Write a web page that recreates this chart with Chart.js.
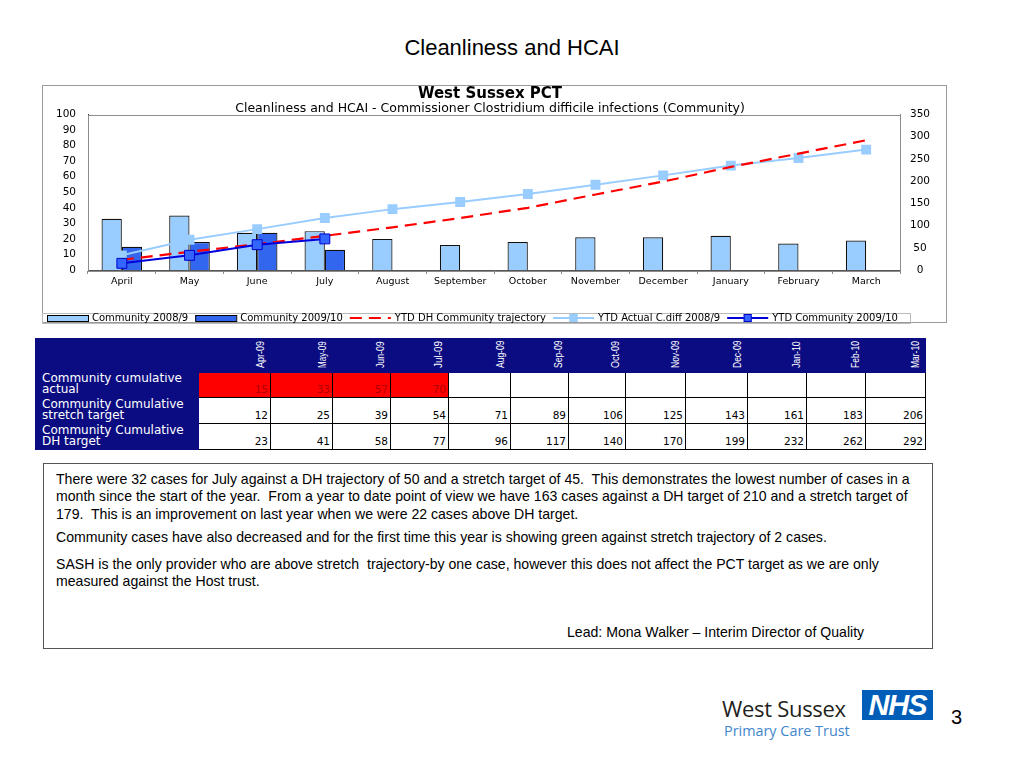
<!DOCTYPE html>
<html>
<head>
<meta charset="utf-8">
<script src="https://cdn.jsdelivr.net/npm/chart.js@4.4.1/dist/chart.umd.min.js"></script>
<style>
  body { margin: 0; width: 1024px; height: 768px; background: #fff; position: relative; overflow: hidden; font-family: "Liberation Sans", Arial, sans-serif; }
  .abs { position: absolute; }
  #slideTitle { left: 0; width: 1024px; top: 35px; text-align: center; font-size: 22px; color: #000; }
  #chartWrap { left: 42px; top: 85px; width: 905px; height: 242px; }
  #tbl { left: 35px; top: 338px; border-collapse: collapse; table-layout: fixed; font-family: "DejaVu Sans", sans-serif; }
  #tbl td { padding: 0; overflow: hidden; }
  #tbl tr.hdr td { background: #0c0c82; height: 33px; border: 1px solid #0c0c82; }
  .hwrap { position: relative; height: 33px; overflow: hidden; }
  .rot { position: absolute; left: calc(100% - 16px); top: 29px; line-height: 12px; white-space: nowrap; transform-origin: 0 0; transform: rotate(-90deg); color: #fff; font-family: "Liberation Sans", Arial, sans-serif; font-size: 11px; }
  #tbl td.lbl { background: #0c0c82; color: #fff; font-size: 12px; line-height: 11px; vertical-align: bottom; border: 1px solid #0c0c82; padding: 0 0 1.5px 6px; white-space: nowrap; }
  #tbl td.num { border: 1px solid #000; text-align: right; vertical-align: bottom; font-size: 10.5px; padding: 0 2px 1.5px 0; background: #fff; line-height: 11px; }
  #tbl td.red { background: #ff0000; color: #b00000; }
  #note { left: 43px; top: 463px; width: 890px; height: 186px; border: 1px solid #555; box-sizing: border-box; font-size: 14.1px; color: #000; }
  #note p { margin: 0; position: absolute; left: 12px; line-height: 17.3px; white-space: nowrap; }
  #logoWs { left: 722px; top: 693px; font-family: "Open Sans", "DejaVu Sans", sans-serif; font-size: 22px; color: #231f20; letter-spacing: -0.3px; }
  #logoPct { left: 724px; top: 721px; font-family: "Open Sans", "DejaVu Sans", sans-serif; font-size: 14.4px; color: #3f86cc; font-weight: 500; }
  #nhs { left: 862px; top: 690px; width: 71px; height: 30px; background: #005eb8; color: #fff; font-family: "Liberation Sans", Arial, sans-serif; font-weight: bold; font-style: italic; font-size: 29px; line-height: 30px; text-align: center; letter-spacing: -1px; }
  #pageNo { left: 951px; top: 706px; font-size: 20px; }
</style>
</head>
<body>
<div id="slideTitle" class="abs">Cleanliness and HCAI</div>
<div id="chartWrap" class="abs"><canvas id="c" width="905" height="242"></canvas></div>
<table id="tbl" class="abs"></table>
<div id="note" class="abs">
  <p style="top:7px">There were 32 cases for July against a DH trajectory of 50 and a stretch target of 45.&nbsp; This demonstrates the lowest number of cases in a<br>month since the start of the year.&nbsp; From a year to date point of view we have 163 cases against a DH target of 210 and a stretch target of<br>179.&nbsp; This is an improvement on last year when we were 22 cases above DH target.</p>
  <p style="top:65px">Community cases have also decreased and for the first time this year is showing green against stretch trajectory of 2 cases.</p>
  <p style="top:92px">SASH is the only provider who are above stretch&nbsp; trajectory-by one case, however this does not affect the PCT target as we are only<br>measured against the Host trust.</p>
  <p style="top:160px; left:523px">Lead: Mona Walker – Interim Director of Quality</p>
</div>
<div id="logoWs" class="abs">West Sussex</div>
<div id="logoPct" class="abs">Primary Care Trust</div>
<div id="nhs" class="abs">NHS</div>
<div id="pageNo" class="abs">3</div>
<script>
const months = ['April', 'May', 'June', 'July', 'August', 'September', 'October', 'November', 'December', 'January', 'February', 'March'];
const tableMonths = ['Apr-09', 'May-09', 'Jun-09', 'Jul-09', 'Aug-09', 'Sep-09', 'Oct-09', 'Nov-09', 'Dec-09', 'Jan-10', 'Feb-10', 'Mar-10'];

const community0809 = [33, 35, 24, 25, 20, 16, 18, 21, 21, 22, 17, 19];
const community0910 = [15, 18, 24, 13, null, null, null, null, null, null, null, null];
const dhTrajectory = [23, 41, 58, 77, 96, 117, 140, 170, 199, 232, 262, 292];
const ytdActual0809 = [33, 68, 92, 117, 137, 153, 171, 192, 213, 235, 252, 271];
const ytdCommunity0910 = [15, 33, 57, 70, null, null, null, null, null, null, null, null];
const stretchTarget = [12, 25, 39, 54, 71, 89, 106, 125, 143, 161, 183, 206];

const leftMax = 100, leftStep = 10;
const rightMax = 350, rightStep = 50;

const colWidths = [163, 72, 62, 58, 58, 62, 58, 57, 60, 62, 59, 59, 60];

// table below the chart
(function buildTable() {
  const t = document.getElementById('tbl');
  let html = '<colgroup>' + colWidths.map(w => `<col style="width:${w}px">`).join('') + '</colgroup>';
  html += '<tr class="hdr"><td></td>' + tableMonths.map(m => `<td><div class="hwrap"><span class="rot">${m}</span></div></td>`).join('') + '</tr>';
  const rows = [
    { label: 'Community cumulative<br>actual', vals: ytdCommunity0910, red: true, h: 23 },
    { label: 'Community Cumulative<br>stretch target', vals: stretchTarget, h: 26 },
    { label: 'Community Cumulative<br>DH target', vals: dhTrajectory, h: 26 }
  ];
  rows.forEach(r => {
    html += `<tr style="height:${r.h}px"><td class="lbl">${r.label}</td>`;
    r.vals.forEach(v => {
      const cls = (r.red && v != null) ? 'num red' : 'num';
      html += `<td class="${cls}">${v == null ? '' : v}</td>`;
    });
    html += '</tr>';
  });
  t.innerHTML = html;
  // squeeze the rotated month headers so they fit the header row like narrow type
  t.querySelectorAll('.rot').forEach(s => {
    const k = Math.min(1, 27 / s.offsetWidth);
    s.style.transform = `rotate(-90deg) scaleX(${k})`;
  });
})();

const frame = {
  id: 'frame',
  beforeDatasetsDraw(chart) {
    const { ctx, chartArea: a } = chart;
    ctx.save();
    ctx.strokeStyle = '#9a9a9a';
    ctx.lineWidth = 1;
    ctx.strokeRect(0.5, 0.5, chart.width - 1, 237);
    ctx.strokeStyle = '#8c8c8c';
    ctx.strokeRect(Math.round(a.left) + 0.5, Math.round(a.top) + 0.5, Math.round(a.width), Math.round(a.height));
    ctx.restore();
  },
  afterDraw(chart) {
    // legend strip along the bottom
    const ctx = chart.ctx;
    const y = 233;
    ctx.save();
    ctx.strokeStyle = '#bbbbbb';
    ctx.lineWidth = 1;
    ctx.strokeRect(0.5, 228.5, 868, 10);
    ctx.font = '10px "DejaVu Sans"';
    ctx.textBaseline = 'middle';
    ctx.fillStyle = '#000';
    let x = 5;
    chart.data.datasets.forEach(ds => {
      const w = 41;
      if (ds.type === 'line') {
        ctx.strokeStyle = ds.borderColor;
        ctx.lineWidth = 2;
        ctx.setLineDash(ds.borderDash || []);
        ctx.beginPath();
        ctx.moveTo(x, y); ctx.lineTo(x + w, y);
        ctx.stroke();
        ctx.setLineDash([]);
        if (ds.pointRadius > 0) {
          ctx.fillStyle = ds.pointBackgroundColor;
          ctx.fillRect(x + w / 2 - 4, y - 4, 8, 8);
          ctx.strokeStyle = ds.pointBorderColor;
          ctx.lineWidth = 1;
          ctx.strokeRect(x + w / 2 - 4 + 0.5, y - 4 + 0.5, 7, 7);
        }
      } else {
        ctx.fillStyle = ds.backgroundColor;
        ctx.fillRect(x, y - 3, w, 6);
        ctx.strokeStyle = '#000';
        ctx.lineWidth = 1;
        ctx.strokeRect(x + 0.5, y - 3 + 0.5, w, 6);
      }
      ctx.fillStyle = '#000';
      ctx.fillText(ds.label, x + w + 4, y + 0.5);
      x += w + 4 + ctx.measureText(ds.label).width + 7;
    });
    ctx.restore();
  }
};

new Chart(document.getElementById('c'), {
  type: 'bar',
  data: {
    labels: months,
    datasets: [
      { label: 'Community 2008/9', data: community0809, backgroundColor: '#99ccff', borderColor: '#111', borderWidth: 1.2, yAxisID: 'y', order: 4, categoryPercentage: 0.6, barPercentage: 1.0 },
      { label: 'Community 2009/10', data: community0910, backgroundColor: '#3366ee', borderColor: '#111', borderWidth: 1.2, yAxisID: 'y', order: 5, categoryPercentage: 0.6, barPercentage: 1.0 },
      { type: 'line', label: 'YTD DH Community trajectory', data: dhTrajectory, borderColor: '#ff0000', borderWidth: 2.2, borderDash: [12, 7], pointRadius: 0, yAxisID: 'y2', order: 2, tension: 0 },
      { type: 'line', label: 'YTD Actual C.diff 2008/9', data: ytdActual0809, borderColor: '#99ccff', borderWidth: 2, pointStyle: 'rect', pointRadius: 7, pointBackgroundColor: '#99ccff', pointBorderColor: '#99ccff', pointBorderWidth: 0, yAxisID: 'y2', order: 3, tension: 0 },
      { type: 'line', label: 'YTD Community 2009/10', data: ytdCommunity0910, borderColor: '#0000dd', borderWidth: 2, pointStyle: 'rect', pointRadius: 7, pointBackgroundColor: '#3366ff', pointBorderColor: '#0000cc', pointBorderWidth: 1, yAxisID: 'y2', order: 1, tension: 0 }
    ]
  },
  options: {
    responsive: false,
    animation: false,
    events: [],
    layout: { padding: { left: 0, right: 9, top: 0, bottom: 35 } },
    plugins: {
      legend: { display: false },
      tooltip: { enabled: false },
      title: { display: true, text: 'West Sussex PCT', color: '#000', font: { family: 'DejaVu Sans', size: 15, weight: 'bold', lineHeight: 1.0 }, padding: { top: 2, bottom: 0 } },
      subtitle: { display: true, text: 'Cleanliness and HCAI - Commissioner Clostridium difficile infections (Community)', color: '#000', font: { family: 'DejaVu Sans', size: 12.5, lineHeight: 1.0 }, padding: { top: 0, bottom: 0 } }
    },
    scales: {
      x: {
        offset: true,
        grid: { display: true, drawOnChartArea: false, offset: true, tickLength: 4, color: '#888' },
        border: { color: '#555' },
        ticks: { color: '#000', font: { family: 'DejaVu Sans', size: 9.5 }, maxRotation: 0, autoSkip: false, padding: 2 },
        afterFit: s => { s.height = 22; }
      },
      y: {
        position: 'left', min: 0, max: leftMax,
        ticks: { stepSize: leftStep, autoSkip: false, color: '#000', font: { family: 'DejaVu Sans', size: 10.5 }, padding: 12 },
        grid: { display: false, drawTicks: false },
        border: { color: '#333' },
        afterFit: s => { s.width = 46; }
      },
      y2: {
        position: 'right', min: 0, max: rightMax,
        ticks: { stepSize: rightStep, autoSkip: false, color: '#000', font: { family: 'DejaVu Sans', size: 10.5 }, crossAlign: 'center', padding: 10 },
        grid: { display: false, drawTicks: false },
        border: { color: '#8c8c8c' },
        afterFit: s => { s.width = 38; }
      }
    }
  },
  plugins: [frame]
});
</script>
</body>
</html>
